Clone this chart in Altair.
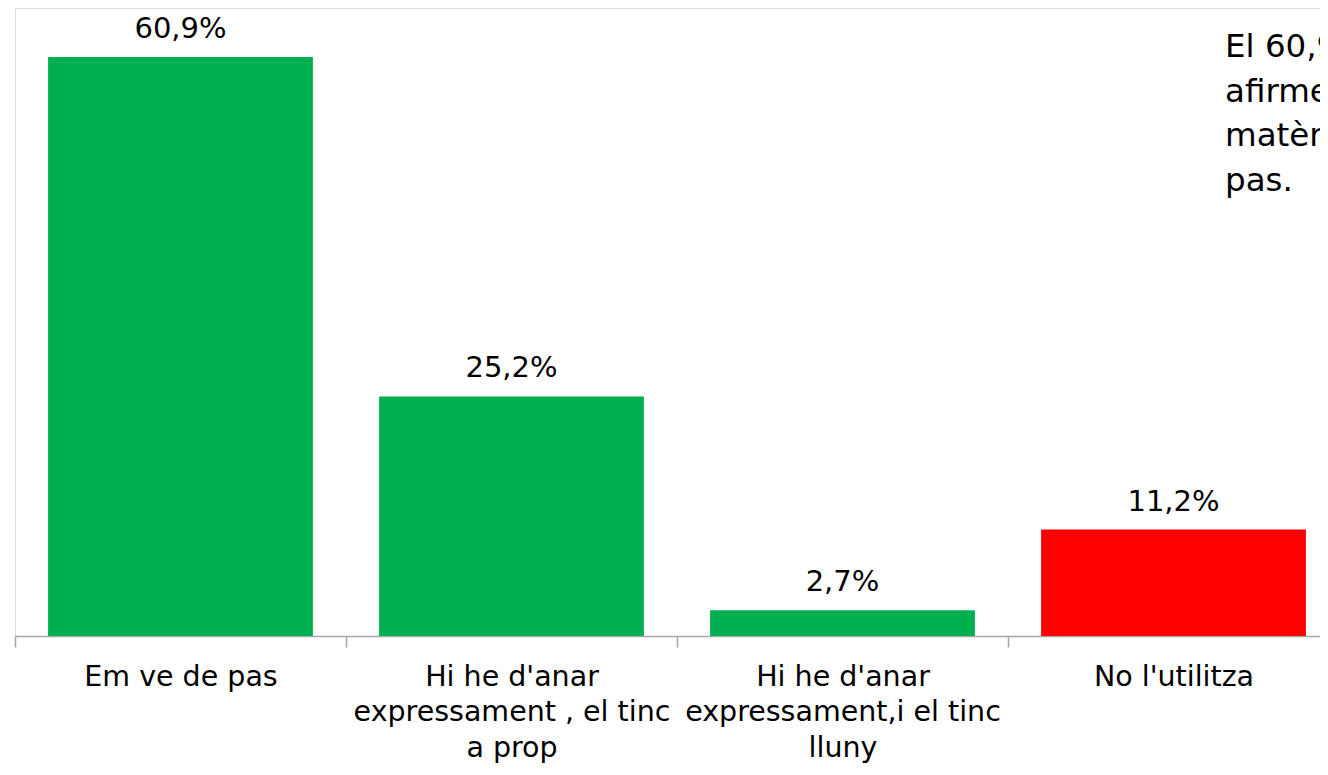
import altair as alt
import pandas as pd

categories = [
    "Em ve de pas",
    "Hi he d'anar\nexpressament , el tinc\na prop",
    "Hi he d'anar\nexpressament,i el tinc\nlluny",
    "No l'utilitza",
]
values = [60.9, 25.2, 2.7, 11.2]
bar_colors = ["#00B050", "#00B050", "#00B050", "#FF0000"]
value_labels = ["60,9%", "25,2%", "2,7%", "11,2%"]
note_lines = [
    "El 60,9% dels enquestats",
    "afirmen que el contenidor de",
    "matèria orgànica els ve de",
    "pas.",
]

df = pd.DataFrame({"cat": categories, "val": values, "lab": value_labels})

FONT = "DejaVu Sans"

x = alt.X(
    "cat:N",
    sort=categories,
    scale=alt.Scale(range=[0, 1324], paddingInner=0, paddingOuter=0),
    axis=alt.Axis(
        title=None,
        labelAngle=0,
        labelExpr="split(datum.label, '\\n')",
        labelFont=FONT,
        labelFontSize=28.5,
        labelColor="#000000",
        labelLineHeight=35.5,
        labelPadding=15,
        labelLimit=0,
        tickBand="extent",
        tickSize=11,
        tickColor="#A6A6A6",
        domainColor="#A6A6A6",
        domainWidth=1.5,
        tickWidth=1.5,
        grid=False,
    ),
)
y = alt.Y("val:Q", scale=alt.Scale(domain=[0, 66.05], nice=False, zero=True), axis=None)

bars = alt.Chart(df).mark_bar(width={"band": 0.8}).encode(
    x=x,
    y=y,
    color=alt.Color("cat:N", scale=alt.Scale(domain=categories, range=bar_colors), legend=None),
)

texts = alt.Chart(df).mark_text(
    font=FONT, fontSize=29, color="#000000", baseline="middle", dy=-28
).encode(x=alt.X("cat:N", sort=categories), y="val:Q", text="lab:N")

note = alt.Chart(alt.Data(values=[{"note": note_lines}])).mark_text(
    font=FONT, fontSize=32.5, color="#000000", align="left", baseline="top", lineHeight=44.5
).encode(x=alt.value(1210), y=alt.value(23), text="note:N")

chart = (
    alt.layer(bars, texts, note)
    .properties(
        width=1305,
        height=628,
        autosize=alt.AutoSizeParams(type="none"),
        padding={"left": 7, "top": 0, "right": 0, "bottom": 127},
    )
    .configure_view(strokeWidth=0, stroke="transparent")
    .configure(background="#FFFFFF")
)

chart.save("out.html", embed_options={"renderer": "svg", "actions": False})
